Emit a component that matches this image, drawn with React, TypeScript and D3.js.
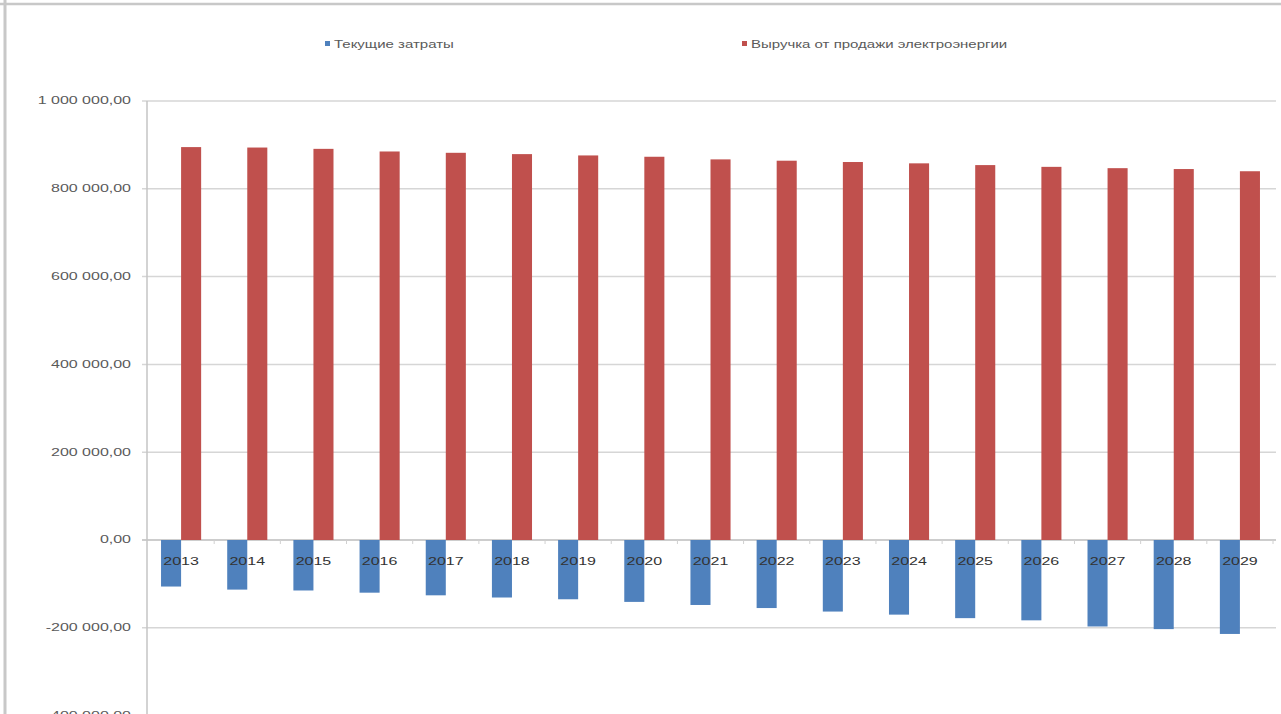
import React from "react";
import * as d3 from "d3";

// Years on the category axis
const years = [
  "2013", "2014", "2015", "2016", "2017", "2018", "2019", "2020", "2021",
  "2022", "2023", "2024", "2025", "2026", "2027", "2028", "2029",
];

// Текущие затраты (negative: costs)
const costs = [
  -106000, -113000, -115000, -120000, -126000, -131000, -135000, -141000,
  -148000, -155000, -163000, -170000, -178000, -183000, -197000, -203000,
  -214000,
];

// Выручка от продажи электроэнергии
const revenue = [
  895000, 894000, 891000, 885000, 882000, 879000, 876000, 873000, 867000,
  864000, 861000, 858000, 854000, 850000, 847000, 845000, 840000,
];

const seriesNames = ["Текущие затраты", "Выручка от продажи электроэнергии"];
const seriesColors = ["#4f81bd", "#c0504d"];

const yTicks = [-400000, -200000, 0, 200000, 400000, 600000, 800000, 1000000];

const W = 1281;
const H = 714;
const plotLeft = 147;
const plotRight = 1276;
const FONT = "'Liberation Sans', Arial, sans-serif";
const SX = 1.6; // horizontal stretch of the lettering

const fmt = (v: number) => {
  const s = d3.format(",.2f")(v); // 1,000,000.00
  return s.replace(/,/g, " ").replace(".", ",").replace("−", "-");
};

export default function App() {
  const y = d3.scaleLinear().domain([-400000, 1000000]).range([715.6, 101]);
  const x0 = d3.scaleBand<string>().domain(years).range([148, 1273]).padding(0);
  const x1 = d3
    .scaleBand<string>()
    .domain(seriesNames)
    .range([0, x0.bandwidth()])
    .paddingInner(0)
    .paddingOuter(0.65);

  const series = [costs, revenue];

  return (
    <svg
      width={W}
      height={H}
      style={{ position: "fixed", left: 0, top: 0, background: "#fff" }}
    >
      {/* outer frame */}
      <line x1={0} x2={W} y1={4} y2={4} stroke="#c8c8c8" strokeWidth={2.5} />
      <line x1={5} x2={5} y1={0} y2={H} stroke="#c8c8c8" strokeWidth={3} />

      {/* gridlines + y labels */}
      {yTicks.map((t) => (
        <g key={t}>
          <line
            x1={plotLeft - 5}
            x2={plotRight}
            y1={y(t)}
            y2={y(t)}
            stroke={t === 0 ? "#bcbcbc" : "#d6d6d6"}
            strokeWidth={1.5}
          />
          <text
            transform={`translate(131,${y(t)}) scale(${SX},1)`}
            textAnchor="end"
            dominantBaseline="central"
            fontFamily={FONT}
            fontSize={10}
            fill="#5a5a5a"
          >
            {fmt(t)}
          </text>
        </g>
      ))}

      {/* vertical axis */}
      <line x1={plotLeft} x2={plotLeft} y1={101} y2={H} stroke="#c4c4c4" strokeWidth={1.5} />

      {/* category ticks on the zero line */}
      {years.map((yr) => (
        <line
          key={"t" + yr}
          x1={(x0(yr) as number) + x0.bandwidth()}
          x2={(x0(yr) as number) + x0.bandwidth()}
          y1={y(0)}
          y2={y(0) + 4}
          stroke="#d0d0d0"
          strokeWidth={1}
        />
      ))}

      {/* bars */}
      {years.map((yr, i) => (
        <g key={yr} transform={`translate(${x0(yr)},0)`}>
          {series.map((vals, s) => {
            const v = vals[i];
            const top = y(Math.max(0, v));
            const h = Math.abs(y(v) - y(0));
            return (
              <rect
                key={s}
                x={x1(seriesNames[s])}
                y={top}
                width={x1.bandwidth()}
                height={h}
                fill={seriesColors[s]}
              />
            );
          })}
        </g>
      ))}

      {/* year labels */}
      {years.map((yr) => (
        <text
          key={"l" + yr}
          transform={`translate(${(x0(yr) as number) + x0.bandwidth() / 2},${y(0) + 22}) scale(${SX},1)`}
          textAnchor="middle"
          dominantBaseline="central"
          fontFamily={FONT}
          fontSize={10}
          fill="#333"
        >
          {yr}
        </text>
      ))}

      {/* legend */}
      {seriesNames.map((name, s) => {
        const lx = s === 0 ? 325 : 742;
        return (
          <g key={name}>
            <rect x={lx} y={41} width={5} height={5} fill={seriesColors[s]} />
            <text
              transform={`translate(${lx + 9},${44}) scale(1.5,1)`}
              dominantBaseline="central"
              fontFamily={FONT}
              fontSize={10}
              fill="#5a5a5a"
            >
              {name}
            </text>
          </g>
        );
      })}
    </svg>
  );
}
